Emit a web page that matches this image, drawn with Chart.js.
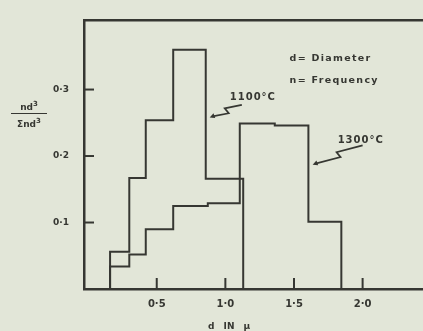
<!DOCTYPE html>
<html>
<head>
<meta charset="utf-8">
<script src="https://cdn.jsdelivr.net/npm/chart.js@4.4.1/dist/chart.umd.min.js"></script>
<style>
  html, body { margin: 0; padding: 0; background: #e2e6d8; overflow: hidden; }
  #wrap { position: relative; width: 423px; height: 331px; }
  canvas { position: absolute; left: 0; top: 0; }
  .lbl { position: absolute; font-family: "DejaVu Sans", sans-serif; font-weight: bold; color: #363732; }
  #ytitle { left: 11px; top: 99px; width: 36px; text-align: center; font-size: 9px; line-height: 10px; }
  #ytitle .num { display: block; border-bottom: 1.5px solid #363732; padding-bottom: 1px; }
  #ytitle .den { display: block; padding-top: 2px; }
  #xtitle { left: 208px; top: 321px; font-size: 9px; word-spacing: 6px; }
</style>
</head>
<body>
<div id="wrap">
  <canvas id="c" width="423" height="331"></canvas>
  <div class="lbl" id="ytitle"><span class="num">nd<sup style="font-size:7px">3</sup></span><span class="den">&Sigma;nd<sup style="font-size:7px">3</sup></span></div>
  <div class="lbl" id="xtitle">d IN &mu;</div>
</div>
<script>
// ---- data ----
const edges1100 = [0.16, 0.30, 0.42, 0.62, 0.857, 1.13];
const values1100 = [0.056, 0.167, 0.254, 0.360, 0.166];
const edges1300 = [0.16, 0.30, 0.42, 0.62, 0.872, 1.105, 1.36, 1.605, 1.845];
const values1300 = [0.034, 0.052, 0.090, 0.125, 0.129, 0.249, 0.246, 0.101];
const xTicks = [0.5, 1.0, 1.5, 2.0];
const yTicks = [0.1, 0.2, 0.3];

function histPoints(edges, values) {
  const pts = [{x: edges[0], y: 0}];
  for (let i = 0; i < values.length; i++) pts.push({x: edges[i], y: values[i]});
  pts.push({x: edges[edges.length - 1], y: 0});
  return pts;
}

const ink = '#363732';
const fmt = v => v.toFixed(1).replace('.', '\u00B7');

const inwardTicks = {
  id: 'inwardTicks',
  afterDraw(chart) {
    const {ctx, chartArea} = chart;
    const xs = chart.scales.x, ys = chart.scales.y;
    ctx.save();
    ctx.strokeStyle = ink;
    ctx.lineWidth = 2;
    yTicks.forEach(v => {
      const p = ys.getPixelForValue(v);
      ctx.beginPath(); ctx.moveTo(chartArea.left, p); ctx.lineTo(chartArea.left + 10, p); ctx.stroke();
    });
    xTicks.forEach(v => {
      const p = xs.getPixelForValue(v);
      ctx.beginPath(); ctx.moveTo(p, chartArea.bottom); ctx.lineTo(p, chartArea.bottom - 11); ctx.stroke();
    });
    ctx.restore();
  }
};

const annotations = {
  id: 'annotations',
  afterDraw(chart) {
    const {ctx} = chart;
    const xs = chart.scales.x, ys = chart.scales.y;
    const P = (x, y) => [xs.getPixelForValue(x), ys.getPixelForValue(y)];
    ctx.save();
    ctx.fillStyle = ink;
    ctx.strokeStyle = ink;
    ctx.textBaseline = 'middle';
    ctx.font = 'bold 9.5px "DejaVu Sans"';
    ctx.letterSpacing = '1.3px';
    let p = P(1.468, 0.346); ctx.fillText('d= Diameter', p[0], p[1]);
    p = P(1.468, 0.313); ctx.fillText('n= Frequency', p[0], p[1]);
    ctx.font = 'bold 10px "DejaVu Sans"';
    ctx.letterSpacing = '1px';
    p = P(1.032, 0.288); ctx.fillText('1100\u00B0C', p[0], p[1]);
    p = P(1.818, 0.223); ctx.fillText('1300\u00B0C', p[0], p[1]);
    ctx.letterSpacing = '0px';

    function zig(x0, y0, x1, y1) {
      const a = P(x0, y0), b = P(x1, y1);
      const dx = b[0] - a[0], dy = b[1] - a[1];
      const len = Math.hypot(dx, dy);
      const ux = dx / len, uy = dy / len;
      const nx = -uy, ny = ux;
      const m1 = [a[0] + dx * 0.5 + nx * 3, a[1] + dy * 0.5 + ny * 3];
      const m2 = [a[0] + dx * 0.5 - nx * 3 - ux * 2, a[1] + dy * 0.5 - ny * 3 - uy * 2];
      ctx.lineWidth = 1.7;
      ctx.beginPath();
      ctx.moveTo(a[0], a[1]);
      ctx.lineTo(m1[0], m1[1]);
      ctx.lineTo(m2[0], m2[1]);
      ctx.lineTo(b[0] - ux * 3, b[1] - uy * 3);
      ctx.stroke();
      ctx.beginPath();
      ctx.moveTo(b[0], b[1]);
      ctx.lineTo(b[0] - ux * 5 + nx * 2.5, b[1] - uy * 5 + ny * 2.5);
      ctx.lineTo(b[0] - ux * 5 - nx * 2.5, b[1] - uy * 5 - ny * 2.5);
      ctx.closePath();
      ctx.fill();
    }
    zig(1.12, 0.277, 0.886, 0.258);
    zig(2.0, 0.216, 1.636, 0.187);
    ctx.restore();
  }
};

const xMin = -0.03, xMax = 2.44;

new Chart(document.getElementById('c'), {
  type: 'line',
  data: {
    datasets: [
      { label: '1100°C', data: histPoints(edges1100, values1100), stepped: true,
        borderColor: ink, borderWidth: 2, pointRadius: 0, fill: false, tension: 0 },
      { label: '1300°C', data: histPoints(edges1300, values1300), stepped: true,
        borderColor: ink, borderWidth: 2, pointRadius: 0, fill: false, tension: 0 }
    ]
  },
  options: {
    responsive: false,
    animation: false,
    devicePixelRatio: 1,
    layout: { padding: { left: 0, top: 10, right: 0, bottom: 0 } },
    plugins: { legend: { display: false }, tooltip: { enabled: false } },
    scales: {
      x: {
        type: 'linear', position: 'bottom', min: xMin, max: xMax,
        afterBuildTicks: s => { s.ticks = xTicks.map(v => ({value: v})); },
        afterFit: s => { s.height = 42; },
        grid: { display: false, drawTicks: false },
        border: { display: true, color: ink, width: 2.5 },
        ticks: { padding: 9, color: ink, font: { family: 'DejaVu Sans', weight: 'bold', size: 10 },
                 callback: v => fmt(v), maxRotation: 0 }
      },
      x2: {
        type: 'linear', position: 'top', min: xMin, max: xMax,
        afterFit: s => { s.height = 0; },
        grid: { display: false, drawTicks: false },
        border: { display: true, color: ink, width: 2.5 },
        ticks: { display: false }
      },
      y: {
        type: 'linear', min: 0, max: 0.404,
        afterBuildTicks: s => { s.ticks = yTicks.map(v => ({value: v})); },
        afterFit: s => { s.width = 84; },
        grid: { display: false, drawTicks: false },
        border: { display: true, color: ink, width: 2.5 },
        ticks: { padding: 15, color: ink, font: { family: 'DejaVu Sans', weight: 'bold', size: 9 },
                 callback: v => fmt(v) }
      }
    }
  },
  plugins: [inwardTicks, annotations]
});
</script>
</body>
</html>
